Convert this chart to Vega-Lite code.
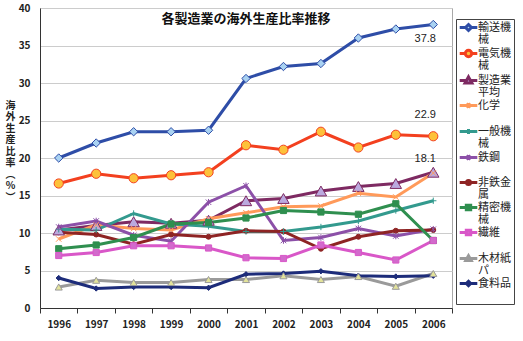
{
  "$schema": "https://vega.github.io/schema/vega-lite/v6.json",
  "width": 412,
  "height": 300,
  "autosize": {"type": "none"},
  "padding": {"left": 40, "top": 8, "right": 71, "bottom": 33},
  "background": "white",
  "config": {
    "font": "Noto Sans CJK JP",
    "view": {"stroke": "#A8A8A8", "strokeWidth": 1},
    "axis": {"labelFont": "Noto Sans CJK JP", "titleFont": "Noto Sans CJK JP"},
    "style": {"guide-label": {"lineHeight": 12}},
    "legend": {
      "orient": "none",
      "legendX": 416,
      "legendY": 11,
      "padding": 3,
      "strokeColor": "#444444",
      "fillColor": "white",
      "symbolSize": 64,
      "symbolOffset": 4,
      "labelOffset": 4,
      "symbolStrokeWidth": 1.5,
      "symbolOpacity": 1,
      "symbolFillColor": "transparent",
      "labelFontSize": 11,
      "labelFont": "Noto Sans CJK JP",
      "labelColor": "#222222",
      "labelBaseline": "middle",
      "rowPadding": -1
    }
  },
  "data": {
    "values": [
      {"series": "輸送機械", "year": "1996", "value": 20.0},
      {"series": "輸送機械", "year": "1997", "value": 22.0},
      {"series": "輸送機械", "year": "1998", "value": 23.5},
      {"series": "輸送機械", "year": "1999", "value": 23.5},
      {"series": "輸送機械", "year": "2000", "value": 23.7},
      {"series": "輸送機械", "year": "2001", "value": 30.6},
      {"series": "輸送機械", "year": "2002", "value": 32.2},
      {"series": "輸送機械", "year": "2003", "value": 32.6},
      {"series": "輸送機械", "year": "2004", "value": 36.0},
      {"series": "輸送機械", "year": "2005", "value": 37.2},
      {"series": "輸送機械", "year": "2006", "value": 37.8},
      {"series": "電気機械", "year": "1996", "value": 16.6},
      {"series": "電気機械", "year": "1997", "value": 17.9},
      {"series": "電気機械", "year": "1998", "value": 17.3},
      {"series": "電気機械", "year": "1999", "value": 17.7},
      {"series": "電気機械", "year": "2000", "value": 18.1},
      {"series": "電気機械", "year": "2001", "value": 21.7},
      {"series": "電気機械", "year": "2002", "value": 21.1},
      {"series": "電気機械", "year": "2003", "value": 23.5},
      {"series": "電気機械", "year": "2004", "value": 21.4},
      {"series": "電気機械", "year": "2005", "value": 23.1},
      {"series": "電気機械", "year": "2006", "value": 22.9},
      {"series": "製造業平均", "year": "1996", "value": 10.4},
      {"series": "製造業平均", "year": "1997", "value": 11.0},
      {"series": "製造業平均", "year": "1998", "value": 11.5},
      {"series": "製造業平均", "year": "1999", "value": 11.3},
      {"series": "製造業平均", "year": "2000", "value": 11.7},
      {"series": "製造業平均", "year": "2001", "value": 14.3},
      {"series": "製造業平均", "year": "2002", "value": 14.6},
      {"series": "製造業平均", "year": "2003", "value": 15.6},
      {"series": "製造業平均", "year": "2004", "value": 16.2},
      {"series": "製造業平均", "year": "2005", "value": 16.6},
      {"series": "製造業平均", "year": "2006", "value": 18.1},
      {"series": "化学", "year": "1996", "value": 9.2},
      {"series": "化学", "year": "1997", "value": 11.1},
      {"series": "化学", "year": "1998", "value": 10.6},
      {"series": "化学", "year": "1999", "value": 10.4},
      {"series": "化学", "year": "2000", "value": 11.9},
      {"series": "化学", "year": "2001", "value": 12.7},
      {"series": "化学", "year": "2002", "value": 13.5},
      {"series": "化学", "year": "2003", "value": 13.6},
      {"series": "化学", "year": "2004", "value": 15.3},
      {"series": "化学", "year": "2005", "value": 14.8},
      {"series": "化学", "year": "2006", "value": 18.0},
      {"series": "一般機械", "year": "1996", "value": 10.5},
      {"series": "一般機械", "year": "1997", "value": 10.4},
      {"series": "一般機械", "year": "1998", "value": 12.6},
      {"series": "一般機械", "year": "1999", "value": 11.2},
      {"series": "一般機械", "year": "2000", "value": 10.9},
      {"series": "一般機械", "year": "2001", "value": 10.2},
      {"series": "一般機械", "year": "2002", "value": 10.2},
      {"series": "一般機械", "year": "2003", "value": 10.8},
      {"series": "一般機械", "year": "2004", "value": 11.6},
      {"series": "一般機械", "year": "2005", "value": 13.0},
      {"series": "一般機械", "year": "2006", "value": 14.3},
      {"series": "鉄鋼", "year": "1996", "value": 10.8},
      {"series": "鉄鋼", "year": "1997", "value": 11.6},
      {"series": "鉄鋼", "year": "1998", "value": 9.7},
      {"series": "鉄鋼", "year": "1999", "value": 8.9},
      {"series": "鉄鋼", "year": "2000", "value": 14.1},
      {"series": "鉄鋼", "year": "2001", "value": 16.3},
      {"series": "鉄鋼", "year": "2002", "value": 9.0},
      {"series": "鉄鋼", "year": "2003", "value": 9.4},
      {"series": "鉄鋼", "year": "2004", "value": 10.6},
      {"series": "鉄鋼", "year": "2005", "value": 9.6},
      {"series": "鉄鋼", "year": "2006", "value": 10.5},
      {"series": "非鉄金属", "year": "1996", "value": 10.1},
      {"series": "非鉄金属", "year": "1997", "value": 9.8},
      {"series": "非鉄金属", "year": "1998", "value": 8.5},
      {"series": "非鉄金属", "year": "1999", "value": 9.8},
      {"series": "非鉄金属", "year": "2000", "value": 9.5},
      {"series": "非鉄金属", "year": "2001", "value": 10.3},
      {"series": "非鉄金属", "year": "2002", "value": 10.2},
      {"series": "非鉄金属", "year": "2003", "value": 7.9},
      {"series": "非鉄金属", "year": "2004", "value": 9.5},
      {"series": "非鉄金属", "year": "2005", "value": 10.3},
      {"series": "非鉄金属", "year": "2006", "value": 10.4},
      {"series": "精密機械", "year": "1996", "value": 7.9},
      {"series": "精密機械", "year": "1997", "value": 8.4},
      {"series": "精密機械", "year": "1998", "value": 9.4},
      {"series": "精密機械", "year": "1999", "value": 11.2},
      {"series": "精密機械", "year": "2000", "value": 11.4},
      {"series": "精密機械", "year": "2001", "value": 12.0},
      {"series": "精密機械", "year": "2002", "value": 13.0},
      {"series": "精密機械", "year": "2003", "value": 12.8},
      {"series": "精密機械", "year": "2004", "value": 12.5},
      {"series": "精密機械", "year": "2005", "value": 13.9},
      {"series": "精密機械", "year": "2006", "value": 9.0},
      {"series": "繊維", "year": "1996", "value": 7.0},
      {"series": "繊維", "year": "1997", "value": 7.4},
      {"series": "繊維", "year": "1998", "value": 8.3},
      {"series": "繊維", "year": "1999", "value": 8.3},
      {"series": "繊維", "year": "2000", "value": 8.0},
      {"series": "繊維", "year": "2001", "value": 6.7},
      {"series": "繊維", "year": "2002", "value": 6.6},
      {"series": "繊維", "year": "2003", "value": 8.4},
      {"series": "繊維", "year": "2004", "value": 7.4},
      {"series": "繊維", "year": "2005", "value": 6.4},
      {"series": "繊維", "year": "2006", "value": 9.0},
      {"series": "木材紙パ", "year": "1996", "value": 2.8},
      {"series": "木材紙パ", "year": "1997", "value": 3.7},
      {"series": "木材紙パ", "year": "1998", "value": 3.4},
      {"series": "木材紙パ", "year": "1999", "value": 3.4},
      {"series": "木材紙パ", "year": "2000", "value": 3.8},
      {"series": "木材紙パ", "year": "2001", "value": 3.8},
      {"series": "木材紙パ", "year": "2002", "value": 4.3},
      {"series": "木材紙パ", "year": "2003", "value": 3.8},
      {"series": "木材紙パ", "year": "2004", "value": 4.2},
      {"series": "木材紙パ", "year": "2005", "value": 2.9},
      {"series": "木材紙パ", "year": "2006", "value": 4.6},
      {"series": "食料品", "year": "1996", "value": 4.0},
      {"series": "食料品", "year": "1997", "value": 2.6},
      {"series": "食料品", "year": "1998", "value": 2.8},
      {"series": "食料品", "year": "1999", "value": 2.8},
      {"series": "食料品", "year": "2000", "value": 2.7},
      {"series": "食料品", "year": "2001", "value": 4.5},
      {"series": "食料品", "year": "2002", "value": 4.6},
      {"series": "食料品", "year": "2003", "value": 4.9},
      {"series": "食料品", "year": "2004", "value": 4.3},
      {"series": "食料品", "year": "2005", "value": 4.2},
      {"series": "食料品", "year": "2006", "value": 4.3}
    ]
  },
  "encoding": {
    "x": {
      "field": "year",
      "type": "ordinal",
      "scale": {"type": "band", "paddingInner": 0, "paddingOuter": 0},
      "axis": {
        "title": null,
        "labelAngle": 0,
        "labelFontSize": 10,
        "labelFontWeight": "bold",
        "labelColor": "#222222",
        "labelPadding": 6,
        "tickBand": "extent",
        "tickSize": 5,
        "tickColor": "#333333",
        "domainColor": "#333333",
        "grid": false
      }
    },
    "y": {
      "field": "value",
      "type": "quantitative",
      "scale": {"domain": [0, 40], "nice": false},
      "axis": {
        "values": [0, 5, 10, 15, 20, 25, 30, 35, 40],
        "labelFontSize": 10,
        "labelFontWeight": "bold",
        "labelColor": "#222222",
        "labelPadding": 10,
        "ticks": false,
        "domainColor": "#333333",
        "gridColor": "#CCCCCC",
        "title": ["海", "外", "生", "産", "比", "率", "︵", "%", "︶"],
        "titleAngle": 0,
        "titleFontSize": 10,
        "titleFontWeight": "bold",
        "titleLineHeight": 11.5,
        "titleAlign": "center",
        "titleBaseline": "middle",
        "titleX": -30,
        "titleY": 97,
        "titleColor": "#222222"
      }
    }
  },
  "layer": [
    {
      "mark": {"type": "line"},
      "encoding": {
        "stroke": {
          "field": "series",
          "type": "nominal",
          "title": null,
          "scale": {
            "domain": ["輸送機械", "電気機械", "製造業平均", "化学", "一般機械", "鉄鋼", "非鉄金属", "精密機械", "繊維", "木材紙パ", "食料品"],
            "range": ["#2E4DA7", "#F3401F", "#7E2A62", "#FF9A5A", "#339A8E", "#8C50A8", "#8E2424", "#2F8F4F", "#D957C8", "#9A9A9A", "#1D2C7A"]
          },
          "legend": {"labelExpr": "length(datum.label) > 3 ? [substring(datum.label, 0, 3), substring(datum.label, 3)] : [datum.label, ' ']"}
        },
        "strokeWidth": {
          "field": "series",
          "type": "nominal",
          "title": null,
          "scale": {
            "domain": ["輸送機械", "電気機械", "製造業平均", "化学", "一般機械", "鉄鋼", "非鉄金属", "精密機械", "繊維", "木材紙パ", "食料品"],
            "range": [3, 3, 3.5, 1, 1, 1, 1, 1, 1, 1, 1]
          },
          "legend": {"labelExpr": "length(datum.label) > 3 ? [substring(datum.label, 0, 3), substring(datum.label, 3)] : [datum.label, ' ']"}
        }
      }
    },
    {
      "encoding": {
        "stroke": {
          "field": "series",
          "type": "nominal",
          "title": null,
          "legend": {"labelExpr": "length(datum.label) > 3 ? [substring(datum.label, 0, 3), substring(datum.label, 3)] : [datum.label, ' ']"}
        },
        "fill": {
          "field": "series",
          "type": "nominal",
          "title": null,
          "scale": {
            "domain": ["輸送機械", "電気機械", "製造業平均", "化学", "一般機械", "鉄鋼", "非鉄金属", "精密機械", "繊維", "木材紙パ", "食料品"],
            "range": ["#A9D2F2", "#FDC13A", "#BBA9DE", "transparent", "transparent", "transparent", "#8E2424", "#2F8F4F", "#D26ACC", "#E3E39A", "#1D2C7A"]
          },
          "legend": {"labelExpr": "length(datum.label) > 3 ? [substring(datum.label, 0, 3), substring(datum.label, 3)] : [datum.label, ' ']"}
        }
      },
      "layer": [
        {
          "transform": [{"filter": {"field": "series", "oneOf": ["輸送機械"]}}],
          "mark": {"type": "point", "shape": "diamond", "size": 70, "filled": false, "opacity": 1, "strokeWidth": 1}
        },
        {
          "transform": [{"filter": {"field": "series", "oneOf": ["食料品"]}}],
          "mark": {"type": "point", "shape": "diamond", "size": 28, "filled": false, "opacity": 1, "strokeWidth": 1}
        },
        {
          "transform": [{"filter": {"field": "series", "oneOf": ["電気機械"]}}],
          "mark": {"type": "point", "shape": "circle", "size": 85, "filled": false, "opacity": 1, "strokeWidth": 1}
        },
        {
          "transform": [{"filter": {"field": "series", "oneOf": ["非鉄金属"]}}],
          "mark": {"type": "point", "shape": "circle", "size": 25, "filled": false, "opacity": 1, "strokeWidth": 1}
        },
        {
          "transform": [{"filter": {"field": "series", "oneOf": ["製造業平均"]}}],
          "mark": {"type": "point", "shape": "triangle-up", "size": 130, "filled": false, "opacity": 1, "strokeWidth": 1}
        },
        {
          "transform": [{"filter": {"field": "series", "oneOf": ["木材紙パ"]}}],
          "mark": {"type": "point", "shape": "triangle-up", "size": 50, "filled": false, "opacity": 1, "strokeWidth": 1}
        },
        {
          "transform": [{"filter": {"field": "series", "oneOf": ["化学"]}}],
          "mark": {"type": "point", "shape": "M-1,-1L1,1M-1,1L1,-1", "size": 30, "filled": false, "opacity": 1, "strokeWidth": 1}
        },
        {
          "transform": [{"filter": {"field": "series", "oneOf": ["一般機械"]}}],
          "mark": {"type": "point", "shape": "M-1,0L1,0M0,-1L0,1", "size": 40, "filled": false, "opacity": 1, "strokeWidth": 1}
        },
        {
          "transform": [{"filter": {"field": "series", "oneOf": ["鉄鋼"]}}],
          "mark": {"type": "point", "shape": "M-1,-1L1,1M-1,1L1,-1M0,-1.2L0,1.2", "size": 30, "filled": false, "opacity": 1, "strokeWidth": 1}
        },
        {
          "transform": [{"filter": {"field": "series", "oneOf": ["精密機械", "繊維"]}}],
          "mark": {"type": "point", "shape": "square", "size": 38, "filled": false, "opacity": 1, "strokeWidth": 1}
        },
        {
          "mark": {"type": "point", "filled": false, "opacity": 0},
          "encoding": {
            "shape": {
              "field": "series",
              "type": "nominal",
              "title": null,
              "scale": {
                "domain": ["輸送機械", "電気機械", "製造業平均", "化学", "一般機械", "鉄鋼", "非鉄金属", "精密機械", "繊維", "木材紙パ", "食料品"],
                "range": [
                  "M-2.2,0L-0.75,0M0.75,0L2.2,0M0,-0.75L0.75,0L0,0.75L-0.75,0Z",
                  "M-2.2,0L-0.8,0M0.8,0L2.2,0M-0.8,0A0.8,0.8 0 1,0 0.8,0A0.8,0.8 0 1,0 -0.8,0Z",
                  "M-2.2,0L-0.55,0M0.55,0L2.2,0M0,-0.9L0.85,0.6L-0.85,0.6Z",
                  "M-2.2,0L2.2,0M-0.5,-0.5L0.5,0.5M-0.5,0.5L0.5,-0.5",
                  "M-2.2,0L2.2,0M0,-0.65L0,0.65",
                  "M-2.2,0L2.2,0M-0.5,-0.5L0.5,0.5M-0.5,0.5L0.5,-0.5M0,-0.65L0,0.65",
                  "M-2.2,0L-0.5,0M0.5,0L2.2,0M-0.5,0A0.5,0.5 0 1,0 0.5,0A0.5,0.5 0 1,0 -0.5,0Z",
                  "M-2.2,0L-0.55,0M0.55,0L2.2,0M-0.55,-0.55L0.55,-0.55L0.55,0.55L-0.55,0.55Z",
                  "M-2.2,0L-0.55,0M0.55,0L2.2,0M-0.55,-0.55L0.55,-0.55L0.55,0.55L-0.55,0.55Z",
                  "M-2.2,0L-0.45,0M0.45,0L2.2,0M0,-0.7L0.68,0.48L-0.68,0.48Z",
                  "M-2.2,0L-0.55,0M0.55,0L2.2,0M0,-0.55L0.55,0L0,0.55L-0.55,0Z"
                ]
              },
              "legend": {
                "labelExpr": "length(datum.label) > 3 ? [substring(datum.label, 0, 3), substring(datum.label, 3)] : [datum.label, ' ']"
              }
            }
          }
        }
      ]
    },
    {
      "transform": [{"filter": "datum.series == '輸送機械' && datum.year == '2001'"}],
      "mark": {"type": "text", "fontSize": 13, "fontWeight": "bold", "color": "#111111", "align": "center", "baseline": "middle", "font": "Noto Sans CJK JP"},
      "encoding": {
        "x": {"datum": "2001", "type": "ordinal"},
        "y": {"datum": 38.6, "type": "quantitative"},
        "text": {"value": "各製造業の海外生産比率推移"}
      }
    },
    {
      "transform": [{"filter": "datum.series == '輸送機械' && datum.year == '2006'"}],
      "mark": {"type": "text", "dx": -8, "dy": 14, "fontSize": 11, "color": "#222222", "font": "Liberation Sans"},
      "encoding": {"text": {"field": "value", "type": "quantitative", "format": ".1f"}}
    },
    {
      "transform": [{"filter": "datum.series == '電気機械' && datum.year == '2006'"}],
      "mark": {"type": "text", "dx": -8, "dy": -21, "fontSize": 11, "color": "#222222", "font": "Liberation Sans"},
      "encoding": {"text": {"field": "value", "type": "quantitative", "format": ".1f"}}
    },
    {
      "transform": [{"filter": "datum.series == '製造業平均' && datum.year == '2006'"}],
      "mark": {"type": "text", "dx": -8, "dy": -13, "fontSize": 11, "color": "#222222", "font": "Liberation Sans"},
      "encoding": {"text": {"field": "value", "type": "quantitative", "format": ".1f"}}
    }
  ]
}
